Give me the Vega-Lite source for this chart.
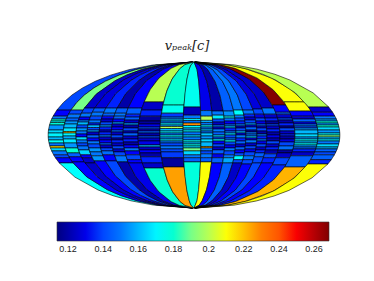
{"$schema":"https://vega.github.io/schema/vega-lite/v6.json","width":374,"height":281,"padding":0,"autosize":"none","background":"white","view":{"stroke":null},
"title":{"text":"vₚₑₐₖ[c]","font":"DejaVu Serif","fontStyle":"italic","fontWeight":"normal","fontSize":13,"color":"#222","anchor":"middle","dy":57,"dx":0},
"layer":[{
"projection":{"type":"mollweide","scale":51.6,"translate":[194,135]},
"data":{"values":[
{"a":-179.9,"b":-161.5,"c":25.2,"d":89.9,"v":0.14},{"a":-179.9,"b":-161.5,"c":19,"d":25.2,"v":0.133},{"a":-179.9,"b":-161.5,"c":16,"d":19,"v":0.15},{"a":-179.9,"b":-161.5,"c":14,"d":16,"v":0.18},{"a":-179.9,"b":-161.5,"c":12.5,"d":14,"v":0.17},{"a":-179.9,"b":-161.5,"c":10,"d":12.5,"v":0.178},{"a":-179.9,"b":-161.5,"c":5,"d":10,"v":0.155},{"a":-179.9,"b":-161.5,"c":2,"d":5,"v":0.165},{"a":-179.9,"b":-161.5,"c":-2,"d":2,"v":0.17},{"a":-179.9,"b":-161.5,"c":-5,"d":-2,"v":0.16},{"a":-179.9,"b":-161.5,"c":-8,"d":-5,"v":0.172},{"a":-179.9,"b":-161.5,"c":-11,"d":-8,"v":0.15},{"a":-179.9,"b":-161.5,"c":-13,"d":-11,"v":0.215},{"a":-179.9,"b":-161.5,"c":-16,"d":-13,"v":0.165},{"a":-179.9,"b":-161.5,"c":-20,"d":-16,"v":0.15},{"a":-179.9,"b":-161.5,"c":-23,"d":-20,"v":0.14},{"a":-179.9,"b":-161.5,"c":-28.4,"d":-23,"v":0.133},{"a":-179.9,"b":-161.5,"c":-89.9,"d":-28.4,"v":0.172},
{"a":-161.5,"b":-145.5,"c":25.2,"d":89.9,"v":0.19},{"a":-161.5,"b":-145.5,"c":21,"d":25.2,"v":0.14},{"a":-161.5,"b":-145.5,"c":17,"d":21,"v":0.15},{"a":-161.5,"b":-145.5,"c":14,"d":17,"v":0.145},{"a":-161.5,"b":-145.5,"c":11,"d":14,"v":0.155},{"a":-161.5,"b":-145.5,"c":7,"d":11,"v":0.16},{"a":-161.5,"b":-145.5,"c":3.5,"d":7,"v":0.168},{"a":-161.5,"b":-145.5,"c":2,"d":3.5,"v":0.218},{"a":-161.5,"b":-145.5,"c":-1,"d":2,"v":0.17},{"a":-161.5,"b":-145.5,"c":-4,"d":-1,"v":0.158},{"a":-161.5,"b":-145.5,"c":-8,"d":-4,"v":0.168},{"a":-161.5,"b":-145.5,"c":-13,"d":-8,"v":0.155},{"a":-161.5,"b":-145.5,"c":-18,"d":-13,"v":0.18},{"a":-161.5,"b":-145.5,"c":-22,"d":-18,"v":0.145},{"a":-161.5,"b":-145.5,"c":-27.3,"d":-22,"v":0.133},{"a":-161.5,"b":-145.5,"c":-89.9,"d":-27.3,"v":0.133},
{"a":-145.5,"b":-132,"c":27.3,"d":89.9,"v":0.125},{"a":-145.5,"b":-132,"c":22,"d":27.3,"v":0.14},{"a":-145.5,"b":-132,"c":18,"d":22,"v":0.15},{"a":-145.5,"b":-132,"c":15,"d":18,"v":0.133},{"a":-145.5,"b":-132,"c":13,"d":15,"v":0.15},{"a":-145.5,"b":-132,"c":10,"d":13,"v":0.16},{"a":-145.5,"b":-132,"c":7,"d":10,"v":0.14},{"a":-145.5,"b":-132,"c":4,"d":7,"v":0.155},{"a":-145.5,"b":-132,"c":1,"d":4,"v":0.15},{"a":-145.5,"b":-132,"c":-2,"d":1,"v":0.133},{"a":-145.5,"b":-132,"c":-5,"d":-2,"v":0.165},{"a":-145.5,"b":-132,"c":-8,"d":-5,"v":0.15},{"a":-145.5,"b":-132,"c":-11,"d":-8,"v":0.14},{"a":-145.5,"b":-132,"c":-15,"d":-11,"v":0.15},{"a":-145.5,"b":-132,"c":-20,"d":-15,"v":0.165},{"a":-145.5,"b":-132,"c":-23,"d":-20,"v":0.133},{"a":-145.5,"b":-132,"c":-28.4,"d":-23,"v":0.125},{"a":-145.5,"b":-132,"c":-89.9,"d":-28.4,"v":0.125},
{"a":-132,"b":-117,"c":27.3,"d":89.9,"v":0.128},{"a":-132,"b":-117,"c":23,"d":27.3,"v":0.145},{"a":-132,"b":-117,"c":19,"d":23,"v":0.15},{"a":-132,"b":-117,"c":15,"d":19,"v":0.14},{"a":-132,"b":-117,"c":12,"d":15,"v":0.15},{"a":-132,"b":-117,"c":10,"d":12,"v":0.135},{"a":-132,"b":-117,"c":7.5,"d":10,"v":0.16},{"a":-132,"b":-117,"c":5,"d":7.5,"v":0.14},{"a":-132,"b":-117,"c":3,"d":5,"v":0.155},{"a":-132,"b":-117,"c":0,"d":3,"v":0.125},{"a":-132,"b":-117,"c":-3,"d":0,"v":0.145},{"a":-132,"b":-117,"c":-6,"d":-3,"v":0.133},{"a":-132,"b":-117,"c":-9,"d":-6,"v":0.15},{"a":-132,"b":-117,"c":-13,"d":-9,"v":0.14},{"a":-132,"b":-117,"c":-17,"d":-13,"v":0.155},{"a":-132,"b":-117,"c":-21,"d":-17,"v":0.15},{"a":-132,"b":-117,"c":-26.3,"d":-21,"v":0.155},{"a":-132,"b":-117,"c":-89.9,"d":-26.3,"v":0.133},
{"a":-117,"b":-102,"c":27.3,"d":89.9,"v":0.135},{"a":-117,"b":-102,"c":22,"d":27.3,"v":0.15},{"a":-117,"b":-102,"c":19,"d":22,"v":0.145},{"a":-117,"b":-102,"c":16,"d":19,"v":0.133},{"a":-117,"b":-102,"c":13,"d":16,"v":0.125},{"a":-117,"b":-102,"c":10,"d":13,"v":0.14},{"a":-117,"b":-102,"c":8,"d":10,"v":0.155},{"a":-117,"b":-102,"c":5,"d":8,"v":0.135},{"a":-117,"b":-102,"c":3,"d":5,"v":0.125},{"a":-117,"b":-102,"c":0,"d":3,"v":0.135},{"a":-117,"b":-102,"c":-2,"d":0,"v":0.15},{"a":-117,"b":-102,"c":-5,"d":-2,"v":0.125},{"a":-117,"b":-102,"c":-8,"d":-5,"v":0.133},{"a":-117,"b":-102,"c":-10,"d":-8,"v":0.145},{"a":-117,"b":-102,"c":-13,"d":-10,"v":0.125},{"a":-117,"b":-102,"c":-16,"d":-13,"v":0.14},{"a":-117,"b":-102,"c":-20,"d":-16,"v":0.148},{"a":-117,"b":-102,"c":-26.3,"d":-20,"v":0.133},{"a":-117,"b":-102,"c":-89.9,"d":-26.3,"v":0.14},
{"a":-102,"b":-87.5,"c":27.3,"d":89.9,"v":0.12},{"a":-102,"b":-87.5,"c":22,"d":27.3,"v":0.145},{"a":-102,"b":-87.5,"c":19,"d":22,"v":0.15},{"a":-102,"b":-87.5,"c":16,"d":19,"v":0.145},{"a":-102,"b":-87.5,"c":13,"d":16,"v":0.133},{"a":-102,"b":-87.5,"c":11,"d":13,"v":0.155},{"a":-102,"b":-87.5,"c":8,"d":11,"v":0.125},{"a":-102,"b":-87.5,"c":5,"d":8,"v":0.133},{"a":-102,"b":-87.5,"c":3,"d":5,"v":0.145},{"a":-102,"b":-87.5,"c":0,"d":3,"v":0.125},{"a":-102,"b":-87.5,"c":-3,"d":0,"v":0.14},{"a":-102,"b":-87.5,"c":-5,"d":-3,"v":0.12},{"a":-102,"b":-87.5,"c":-8,"d":-5,"v":0.135},{"a":-102,"b":-87.5,"c":-11,"d":-8,"v":0.125},{"a":-102,"b":-87.5,"c":-14,"d":-11,"v":0.14},{"a":-102,"b":-87.5,"c":-17,"d":-14,"v":0.125},{"a":-102,"b":-87.5,"c":-21,"d":-17,"v":0.14},{"a":-102,"b":-87.5,"c":-27.3,"d":-21,"v":0.15},{"a":-102,"b":-87.5,"c":-89.9,"d":-27.3,"v":0.12},
{"a":-87.5,"b":-69,"c":27.3,"d":89.9,"v":0.133},{"a":-87.5,"b":-69,"c":21,"d":27.3,"v":0.145},{"a":-87.5,"b":-69,"c":18,"d":21,"v":0.135},{"a":-87.5,"b":-69,"c":15,"d":18,"v":0.145},{"a":-87.5,"b":-69,"c":12,"d":15,"v":0.125},{"a":-87.5,"b":-69,"c":10,"d":12,"v":0.155},{"a":-87.5,"b":-69,"c":7,"d":10,"v":0.12},{"a":-87.5,"b":-69,"c":4,"d":7,"v":0.14},{"a":-87.5,"b":-69,"c":2,"d":4,"v":0.125},{"a":-87.5,"b":-69,"c":-1,"d":2,"v":0.145},{"a":-87.5,"b":-69,"c":-4,"d":-1,"v":0.125},{"a":-87.5,"b":-69,"c":-7,"d":-4,"v":0.135},{"a":-87.5,"b":-69,"c":-10,"d":-7,"v":0.12},{"a":-87.5,"b":-69,"c":-13,"d":-10,"v":0.133},{"a":-87.5,"b":-69,"c":-16,"d":-13,"v":0.15},{"a":-87.5,"b":-69,"c":-20,"d":-16,"v":0.133},{"a":-87.5,"b":-69,"c":-25,"d":-20,"v":0.14},{"a":-87.5,"b":-69,"c":-28.4,"d":-25,"v":0.133},{"a":-87.5,"b":-69,"c":-89.9,"d":-28.4,"v":0.13},
{"a":-69,"b":-42,"c":33.8,"d":89.9,"v":0.2},{"a":-69,"b":-42,"c":25.2,"d":33.8,"v":0.125},{"a":-69,"b":-42,"c":19,"d":25.2,"v":0.135},{"a":-69,"b":-42,"c":14,"d":19,"v":0.118},{"a":-69,"b":-42,"c":11,"d":14,"v":0.118},{"a":-69,"b":-42,"c":8,"d":11,"v":0.13},{"a":-69,"b":-42,"c":6,"d":8,"v":0.14},{"a":-69,"b":-42,"c":4,"d":6,"v":0.125},{"a":-69,"b":-42,"c":2,"d":4,"v":0.145},{"a":-69,"b":-42,"c":-1,"d":2,"v":0.12},{"a":-69,"b":-42,"c":-3,"d":-1,"v":0.14},{"a":-69,"b":-42,"c":-6,"d":-3,"v":0.125},{"a":-69,"b":-42,"c":-10,"d":-6,"v":0.13},{"a":-69,"b":-42,"c":-12,"d":-10,"v":0.16},{"a":-69,"b":-42,"c":-15,"d":-12,"v":0.125},{"a":-69,"b":-42,"c":-18,"d":-15,"v":0.133},{"a":-69,"b":-42,"c":-22,"d":-18,"v":0.12},{"a":-69,"b":-42,"c":-28.4,"d":-22,"v":0.135},{"a":-69,"b":-42,"c":-33.8,"d":-28.4,"v":0.125},{"a":-69,"b":-42,"c":-89.9,"d":-33.8,"v":0.18},
{"a":-42,"b":-13.5,"c":30.5,"d":89.9,"v":0.18},{"a":-42,"b":-13.5,"c":22,"d":30.5,"v":0.175},{"a":-42,"b":-13.5,"c":18,"d":22,"v":0.138},{"a":-42,"b":-13.5,"c":16,"d":18,"v":0.15},{"a":-42,"b":-13.5,"c":14,"d":16,"v":0.16},{"a":-42,"b":-13.5,"c":12,"d":14,"v":0.15},{"a":-42,"b":-13.5,"c":10,"d":12,"v":0.168},{"a":-42,"b":-13.5,"c":8.5,"d":10,"v":0.155},{"a":-42,"b":-13.5,"c":6.5,"d":8.5,"v":0.2},{"a":-42,"b":-13.5,"c":4,"d":6.5,"v":0.16},{"a":-42,"b":-13.5,"c":2,"d":4,"v":0.168},{"a":-42,"b":-13.5,"c":0,"d":2,"v":0.15},{"a":-42,"b":-13.5,"c":-2,"d":0,"v":0.17},{"a":-42,"b":-13.5,"c":-4,"d":-2,"v":0.155},{"a":-42,"b":-13.5,"c":-6,"d":-4,"v":0.165},{"a":-42,"b":-13.5,"c":-8,"d":-6,"v":0.15},{"a":-42,"b":-13.5,"c":-11,"d":-8,"v":0.14},{"a":-42,"b":-13.5,"c":-14,"d":-11,"v":0.15},{"a":-42,"b":-13.5,"c":-17,"d":-14,"v":0.14},{"a":-42,"b":-13.5,"c":-23,"d":-17,"v":0.138},{"a":-42,"b":-13.5,"c":-32.7,"d":-23,"v":0.118},{"a":-42,"b":-13.5,"c":-89.9,"d":-32.7,"v":0.225},
{"a":-13.5,"b":8.6,"c":28.4,"d":89.9,"v":0.175},{"a":-13.5,"b":8.6,"c":20,"d":28.4,"v":0.122},{"a":-13.5,"b":8.6,"c":16.5,"d":20,"v":0.15},{"a":-13.5,"b":8.6,"c":14.5,"d":16.5,"v":0.17},{"a":-13.5,"b":8.6,"c":12,"d":14.5,"v":0.15},{"a":-13.5,"b":8.6,"c":9.5,"d":12,"v":0.228},{"a":-13.5,"b":8.6,"c":7,"d":9.5,"v":0.17},{"a":-13.5,"b":8.6,"c":5,"d":7,"v":0.16},{"a":-13.5,"b":8.6,"c":3,"d":5,"v":0.17},{"a":-13.5,"b":8.6,"c":0,"d":3,"v":0.15},{"a":-13.5,"b":8.6,"c":-2,"d":0,"v":0.165},{"a":-13.5,"b":8.6,"c":-5,"d":-2,"v":0.15},{"a":-13.5,"b":8.6,"c":-7,"d":-5,"v":0.172},{"a":-13.5,"b":8.6,"c":-9,"d":-7,"v":0.16},{"a":-13.5,"b":8.6,"c":-11,"d":-9,"v":0.175},{"a":-13.5,"b":8.6,"c":-13,"d":-11,"v":0.165},{"a":-13.5,"b":8.6,"c":-16,"d":-13,"v":0.19},{"a":-13.5,"b":8.6,"c":-20,"d":-16,"v":0.165},{"a":-13.5,"b":8.6,"c":-23,"d":-20,"v":0.15},{"a":-13.5,"b":8.6,"c":-27.3,"d":-23,"v":0.145},{"a":-13.5,"b":8.6,"c":-89.9,"d":-27.3,"v":0.178},
{"a":8.6,"b":23.4,"c":24.7,"d":89.9,"v":0.13},{"a":8.6,"b":23.4,"c":19,"d":24.7,"v":0.15},{"a":8.6,"b":23.4,"c":14.7,"d":19,"v":0.2},{"a":8.6,"b":23.4,"c":12.5,"d":14.7,"v":0.158},{"a":8.6,"b":23.4,"c":10,"d":12.5,"v":0.15},{"a":8.6,"b":23.4,"c":8,"d":10,"v":0.17},{"a":8.6,"b":23.4,"c":6,"d":8,"v":0.15},{"a":8.6,"b":23.4,"c":4,"d":6,"v":0.16},{"a":8.6,"b":23.4,"c":2,"d":4,"v":0.148},{"a":8.6,"b":23.4,"c":-1,"d":2,"v":0.162},{"a":8.6,"b":23.4,"c":-4,"d":-1,"v":0.155},{"a":8.6,"b":23.4,"c":-7,"d":-4,"v":0.165},{"a":8.6,"b":23.4,"c":-11.5,"d":-7,"v":0.16},{"a":8.6,"b":23.4,"c":-13,"d":-11.5,"v":0.222},{"a":8.6,"b":23.4,"c":-16,"d":-13,"v":0.15},{"a":8.6,"b":23.4,"c":-19,"d":-16,"v":0.14},{"a":8.6,"b":23.4,"c":-23,"d":-19,"v":0.15},{"a":8.6,"b":23.4,"c":-27.3,"d":-23,"v":0.145},{"a":8.6,"b":23.4,"c":-89.9,"d":-27.3,"v":0.21},
{"a":23.4,"b":38.2,"c":24.2,"d":89.9,"v":0.12},{"a":23.4,"b":38.2,"c":20,"d":24.2,"v":0.15},{"a":23.4,"b":38.2,"c":16,"d":20,"v":0.168},{"a":23.4,"b":38.2,"c":13,"d":16,"v":0.14},{"a":23.4,"b":38.2,"c":10,"d":13,"v":0.125},{"a":23.4,"b":38.2,"c":8,"d":10,"v":0.15},{"a":23.4,"b":38.2,"c":6,"d":8,"v":0.13},{"a":23.4,"b":38.2,"c":3,"d":6,"v":0.15},{"a":23.4,"b":38.2,"c":0,"d":3,"v":0.145},{"a":23.4,"b":38.2,"c":-2,"d":0,"v":0.165},{"a":23.4,"b":38.2,"c":-4,"d":-2,"v":0.14},{"a":23.4,"b":38.2,"c":-6,"d":-4,"v":0.17},{"a":23.4,"b":38.2,"c":-9,"d":-6,"v":0.133},{"a":23.4,"b":38.2,"c":-12,"d":-9,"v":0.14},{"a":23.4,"b":38.2,"c":-15,"d":-12,"v":0.125},{"a":23.4,"b":38.2,"c":-19,"d":-15,"v":0.145},{"a":23.4,"b":38.2,"c":-23,"d":-19,"v":0.13},{"a":23.4,"b":38.2,"c":-28.4,"d":-23,"v":0.145},{"a":23.4,"b":38.2,"c":-89.9,"d":-28.4,"v":0.133},
{"a":38.2,"b":51.8,"c":24.2,"d":89.9,"v":0.145},{"a":38.2,"b":51.8,"c":19,"d":24.2,"v":0.155},{"a":38.2,"b":51.8,"c":17,"d":19,"v":0.172},{"a":38.2,"b":51.8,"c":14,"d":17,"v":0.15},{"a":38.2,"b":51.8,"c":11,"d":14,"v":0.133},{"a":38.2,"b":51.8,"c":9,"d":11,"v":0.145},{"a":38.2,"b":51.8,"c":7,"d":9,"v":0.16},{"a":38.2,"b":51.8,"c":4,"d":7,"v":0.135},{"a":38.2,"b":51.8,"c":2,"d":4,"v":0.15},{"a":38.2,"b":51.8,"c":0,"d":2,"v":0.165},{"a":38.2,"b":51.8,"c":-3,"d":0,"v":0.14},{"a":38.2,"b":51.8,"c":-5,"d":-3,"v":0.15},{"a":38.2,"b":51.8,"c":-7,"d":-5,"v":0.17},{"a":38.2,"b":51.8,"c":-10,"d":-7,"v":0.14},{"a":38.2,"b":51.8,"c":-13,"d":-10,"v":0.13},{"a":38.2,"b":51.8,"c":-16,"d":-13,"v":0.15},{"a":38.2,"b":51.8,"c":-20,"d":-16,"v":0.14},{"a":38.2,"b":51.8,"c":-23,"d":-20,"v":0.15},{"a":38.2,"b":51.8,"c":-28.4,"d":-23,"v":0.158},{"a":38.2,"b":51.8,"c":-89.9,"d":-28.4,"v":0.145},
{"a":51.8,"b":64,"c":25.2,"d":89.9,"v":0.15},{"a":51.8,"b":64,"c":20,"d":25.2,"v":0.172},{"a":51.8,"b":64,"c":17,"d":20,"v":0.15},{"a":51.8,"b":64,"c":14,"d":17,"v":0.14},{"a":51.8,"b":64,"c":11,"d":14,"v":0.135},{"a":51.8,"b":64,"c":9,"d":11,"v":0.15},{"a":51.8,"b":64,"c":7,"d":9,"v":0.125},{"a":51.8,"b":64,"c":4,"d":7,"v":0.14},{"a":51.8,"b":64,"c":2,"d":4,"v":0.16},{"a":51.8,"b":64,"c":0,"d":2,"v":0.13},{"a":51.8,"b":64,"c":-3,"d":0,"v":0.15},{"a":51.8,"b":64,"c":-6,"d":-3,"v":0.135},{"a":51.8,"b":64,"c":-9,"d":-6,"v":0.145},{"a":51.8,"b":64,"c":-12,"d":-9,"v":0.125},{"a":51.8,"b":64,"c":-15,"d":-12,"v":0.145},{"a":51.8,"b":64,"c":-18,"d":-15,"v":0.133},{"a":51.8,"b":64,"c":-21,"d":-18,"v":0.14},{"a":51.8,"b":64,"c":-25,"d":-21,"v":0.172},{"a":51.8,"b":64,"c":-28.4,"d":-25,"v":0.14},{"a":51.8,"b":64,"c":-89.9,"d":-28.4,"v":0.125},
{"a":64,"b":77.7,"c":25.2,"d":89.9,"v":0.14},{"a":64,"b":77.7,"c":21,"d":25.2,"v":0.15},{"a":64,"b":77.7,"c":18,"d":21,"v":0.135},{"a":64,"b":77.7,"c":15,"d":18,"v":0.125},{"a":64,"b":77.7,"c":12,"d":15,"v":0.14},{"a":64,"b":77.7,"c":10,"d":12,"v":0.155},{"a":64,"b":77.7,"c":8,"d":10,"v":0.13},{"a":64,"b":77.7,"c":5,"d":8,"v":0.145},{"a":64,"b":77.7,"c":3,"d":5,"v":0.12},{"a":64,"b":77.7,"c":1,"d":3,"v":0.15},{"a":64,"b":77.7,"c":-1,"d":1,"v":0.145},{"a":64,"b":77.7,"c":-3,"d":-1,"v":0.16},{"a":64,"b":77.7,"c":-5,"d":-3,"v":0.13},{"a":64,"b":77.7,"c":-8,"d":-5,"v":0.15},{"a":64,"b":77.7,"c":-11,"d":-8,"v":0.125},{"a":64,"b":77.7,"c":-14,"d":-11,"v":0.14},{"a":64,"b":77.7,"c":-17,"d":-14,"v":0.13},{"a":64,"b":77.7,"c":-21,"d":-17,"v":0.14},{"a":64,"b":77.7,"c":-25,"d":-21,"v":0.15},{"a":64,"b":77.7,"c":-29.5,"d":-25,"v":0.14},{"a":64,"b":77.7,"c":-89.9,"d":-29.5,"v":0.133},
{"a":77.7,"b":90,"c":26.3,"d":89.9,"v":0.128},{"a":77.7,"b":90,"c":21,"d":26.3,"v":0.14},{"a":77.7,"b":90,"c":17,"d":21,"v":0.128},{"a":77.7,"b":90,"c":14,"d":17,"v":0.14},{"a":77.7,"b":90,"c":11,"d":14,"v":0.13},{"a":77.7,"b":90,"c":9,"d":11,"v":0.145},{"a":77.7,"b":90,"c":7,"d":9,"v":0.125},{"a":77.7,"b":90,"c":4,"d":7,"v":0.14},{"a":77.7,"b":90,"c":1,"d":4,"v":0.12},{"a":77.7,"b":90,"c":-1,"d":1,"v":0.15},{"a":77.7,"b":90,"c":-4,"d":-1,"v":0.135},{"a":77.7,"b":90,"c":-6,"d":-4,"v":0.15},{"a":77.7,"b":90,"c":-9,"d":-6,"v":0.13},{"a":77.7,"b":90,"c":-12,"d":-9,"v":0.14},{"a":77.7,"b":90,"c":-15,"d":-12,"v":0.125},{"a":77.7,"b":90,"c":-18,"d":-15,"v":0.135},{"a":77.7,"b":90,"c":-22,"d":-18,"v":0.145},{"a":77.7,"b":90,"c":-28.4,"d":-22,"v":0.14},{"a":77.7,"b":90,"c":-89.9,"d":-28.4,"v":0.14},
{"a":90,"b":106,"c":27.3,"d":89.9,"v":0.125},{"a":90,"b":106,"c":21,"d":27.3,"v":0.15},{"a":90,"b":106,"c":17,"d":21,"v":0.125},{"a":90,"b":106,"c":14,"d":17,"v":0.135},{"a":90,"b":106,"c":11,"d":14,"v":0.118},{"a":90,"b":106,"c":9,"d":11,"v":0.14},{"a":90,"b":106,"c":6,"d":9,"v":0.125},{"a":90,"b":106,"c":3,"d":6,"v":0.135},{"a":90,"b":106,"c":0,"d":3,"v":0.12},{"a":90,"b":106,"c":-3,"d":0,"v":0.13},{"a":90,"b":106,"c":-6,"d":-3,"v":0.12},{"a":90,"b":106,"c":-9,"d":-6,"v":0.14},{"a":90,"b":106,"c":-12,"d":-9,"v":0.125},{"a":90,"b":106,"c":-15,"d":-12,"v":0.135},{"a":90,"b":106,"c":-19,"d":-15,"v":0.12},{"a":90,"b":106,"c":-23,"d":-19,"v":0.14},{"a":90,"b":106,"c":-28.4,"d":-23,"v":0.135},{"a":90,"b":106,"c":-89.9,"d":-28.4,"v":0.133},
{"a":106,"b":124.5,"c":30.5,"d":89.9,"v":0.268},{"a":106,"b":124.5,"c":23,"d":30.5,"v":0.133},{"a":106,"b":124.5,"c":21,"d":23,"v":0.145},{"a":106,"b":124.5,"c":17,"d":21,"v":0.125},{"a":106,"b":124.5,"c":15,"d":17,"v":0.14},{"a":106,"b":124.5,"c":12,"d":15,"v":0.12},{"a":106,"b":124.5,"c":9,"d":12,"v":0.135},{"a":106,"b":124.5,"c":7,"d":9,"v":0.118},{"a":106,"b":124.5,"c":4,"d":7,"v":0.14},{"a":106,"b":124.5,"c":1,"d":4,"v":0.125},{"a":106,"b":124.5,"c":-1,"d":1,"v":0.135},{"a":106,"b":124.5,"c":-4,"d":-1,"v":0.12},{"a":106,"b":124.5,"c":-7,"d":-4,"v":0.128},{"a":106,"b":124.5,"c":-11,"d":-7,"v":0.14},{"a":106,"b":124.5,"c":-15,"d":-11,"v":0.148},{"a":106,"b":124.5,"c":-18,"d":-15,"v":0.118},{"a":106,"b":124.5,"c":-23,"d":-18,"v":0.125},{"a":106,"b":124.5,"c":-30.5,"d":-23,"v":0.14},{"a":106,"b":124.5,"c":-89.9,"d":-30.5,"v":0.135},
{"a":124.5,"b":153,"c":33.8,"d":89.9,"v":0.21},{"a":124.5,"b":153,"c":24.2,"d":33.8,"v":0.21},{"a":124.5,"b":153,"c":19,"d":24.2,"v":0.133},{"a":124.5,"b":153,"c":16,"d":19,"v":0.125},{"a":124.5,"b":153,"c":13,"d":16,"v":0.145},{"a":124.5,"b":153,"c":11,"d":13,"v":0.133},{"a":124.5,"b":153,"c":9,"d":11,"v":0.15},{"a":124.5,"b":153,"c":7,"d":9,"v":0.14},{"a":124.5,"b":153,"c":5,"d":7,"v":0.155},{"a":124.5,"b":153,"c":1,"d":5,"v":0.16},{"a":124.5,"b":153,"c":-2,"d":1,"v":0.165},{"a":124.5,"b":153,"c":-4,"d":-2,"v":0.155},{"a":124.5,"b":153,"c":-6,"d":-4,"v":0.17},{"a":124.5,"b":153,"c":-8,"d":-6,"v":0.16},{"a":124.5,"b":153,"c":-10,"d":-8,"v":0.172},{"a":124.5,"b":153,"c":-12,"d":-10,"v":0.155},{"a":124.5,"b":153,"c":-14,"d":-12,"v":0.145},{"a":124.5,"b":153,"c":-17,"d":-14,"v":0.135},{"a":124.5,"b":153,"c":-21,"d":-17,"v":0.125},{"a":124.5,"b":153,"c":-32.7,"d":-21,"v":0.145},{"a":124.5,"b":153,"c":-89.9,"d":-32.7,"v":0.222},
{"a":153,"b":179.9,"c":28.4,"d":89.9,"v":0.2},{"a":153,"b":179.9,"c":23,"d":28.4,"v":0.125},{"a":153,"b":179.9,"c":19,"d":23,"v":0.133},{"a":153,"b":179.9,"c":16,"d":19,"v":0.15},{"a":153,"b":179.9,"c":14,"d":16,"v":0.155},{"a":153,"b":179.9,"c":12,"d":14,"v":0.178},{"a":153,"b":179.9,"c":10,"d":12,"v":0.155},{"a":153,"b":179.9,"c":8,"d":10,"v":0.18},{"a":153,"b":179.9,"c":5,"d":8,"v":0.165},{"a":153,"b":179.9,"c":2,"d":5,"v":0.155},{"a":153,"b":179.9,"c":0,"d":2,"v":0.17},{"a":153,"b":179.9,"c":-2,"d":0,"v":0.19},{"a":153,"b":179.9,"c":-4,"d":-2,"v":0.16},{"a":153,"b":179.9,"c":-6,"d":-4,"v":0.168},{"a":153,"b":179.9,"c":-9,"d":-6,"v":0.15},{"a":153,"b":179.9,"c":-12,"d":-9,"v":0.165},{"a":153,"b":179.9,"c":-14,"d":-12,"v":0.158},{"a":153,"b":179.9,"c":-17,"d":-14,"v":0.145},{"a":153,"b":179.9,"c":-20,"d":-17,"v":0.14},{"a":153,"b":179.9,"c":-25,"d":-20,"v":0.145},{"a":153,"b":179.9,"c":-29.5,"d":-25,"v":0.135},{"a":153,"b":179.9,"c":-89.9,"d":-29.5,"v":0.21}
]},
"transform":[{"calculate":"{type:'Polygon',coordinates:[[[datum.a,datum.c],[datum.a,datum.d],[(3*datum.a+datum.b)/4,datum.d],[(datum.a+datum.b)/2,datum.d],[(datum.a+3*datum.b)/4,datum.d],[datum.b,datum.d],[datum.b,datum.c],[(datum.a+3*datum.b)/4,datum.c],[(datum.a+datum.b)/2,datum.c],[(3*datum.a+datum.b)/4,datum.c],[datum.a,datum.c]]]}","as":"geo"}],
"mark":{"type":"geoshape","stroke":"#000","strokeWidth":0.7,"strokeOpacity":0.85},
"encoding":{"shape":{"field":"geo","type":"geojson"},
"color":{"field":"v","type":"quantitative","scale":{"type":"linear","domain":[0.1137,0.13305,0.1524,0.17175,0.1911,0.21045,0.2298,0.24915,0.2685],"range":["#000080","#0000ff","#0080ff","#00ffff","#80ff80","#ffff00","#ff8000","#ff0000","#800000"]},
"legend":{"orient":"none","legendX":57,"legendY":222,"direction":"horizontal","gradientLength":272,"gradientThickness":19,"title":null,"values":[0.12,0.14,0.16,0.18,0.2,0.22,0.24,0.26],"format":"~g","labelFont":"Liberation Sans","labelFontSize":9,"labelColor":"#222","labelOffset":4,"gradientStrokeColor":"#333","gradientStrokeWidth":0.6}}}
},{
"data":{"values":[{"t":0.12,"p":0,"q":0.14},{"t":0.12,"p":0.86,"q":1},{"t":0.14,"p":0,"q":0.14},{"t":0.14,"p":0.86,"q":1},{"t":0.16,"p":0,"q":0.14},{"t":0.16,"p":0.86,"q":1},{"t":0.18,"p":0,"q":0.14},{"t":0.18,"p":0.86,"q":1},{"t":0.2,"p":0,"q":0.14},{"t":0.2,"p":0.86,"q":1},{"t":0.22,"p":0,"q":0.14},{"t":0.22,"p":0.86,"q":1},{"t":0.24,"p":0,"q":0.14},{"t":0.24,"p":0.86,"q":1},{"t":0.26,"p":0,"q":0.14},{"t":0.26,"p":0.86,"q":1}]},
"mark":{"type":"rule","color":"#000","strokeWidth":0.6},
"encoding":{"x":{"field":"t","type":"quantitative","axis":null,"scale":{"domain":[0.1137,0.2685],"range":[57,329]}},"y":{"field":"p","type":"quantitative","axis":null,"scale":{"domain":[0,1],"range":[241,222]}},"y2":{"field":"q"}}
}]}
